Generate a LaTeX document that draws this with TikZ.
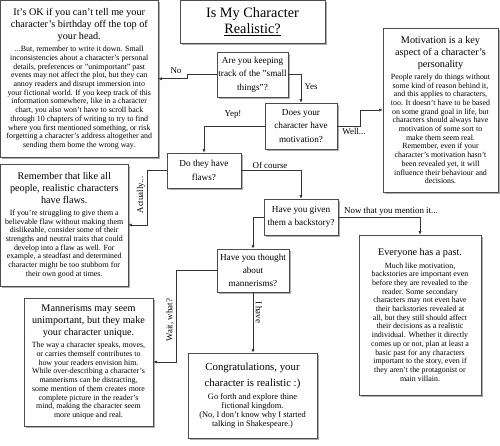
\documentclass[tikz,border=0pt]{standalone}
\usepackage{fontspec}
\setmainfont{Liberation Serif}
\usetikzlibrary{shadows,arrows.meta}
\newcommand\myhdf{\fontsize{10.2}{12}\selectfont}
\newcommand\mybdf{\fontsize{7.9}{8.7}\selectfont}
\newcommand\myqf{\fontsize{9.2}{13.3}\selectfont}
\newcommand\myinfo[3]{\begin{minipage}{#1}\centering\myhdf #2\par\vspace{3.5pt}\mybdf #3\par\end{minipage}}
\tikzset{
  box/.style={draw=black!70, fill=white, line width=0.6pt, inner sep=0pt, align=center,
    drop shadow={shadow xshift=1.6pt, shadow yshift=-1.6pt, fill=black!45, opacity=0.7}},
  qbox/.style={box, font=\myqf},
  lbl/.style={font=\fontsize{8.9}{10}\selectfont, inner sep=1pt},
  arr/.style={draw=black!80, line width=0.6pt, -{Latex[length=3.5pt,width=3pt]}}
}
\begin{document}
\begin{tikzpicture}[x=1pt,y=-1pt]
\useasboundingbox (0,0) rectangle (500,445);

\node[box, minimum width=145pt, minimum height=42.5pt, font=\fontsize{14.3}{15.5}\selectfont] (title) at (252.5,21.75) {Is My Character\\\underline{Realistic?}};

\node[box, minimum width=157.5pt, minimum height=156.5pt] (b1) at (79.25,78.75) {\myinfo{152pt}{It's OK if you can't tell me your\\character's birthday off the top of\\your head.}{...But, remember to write it down. Small\\inconsistencies about a character's personal\\details, preferences or "unimportant" past\\events may not affect the plot, but they can\\annoy readers and disrupt immersion into\\your fictional world. If you keep track of this\\information somewhere, like in a character\\chart, you also won't have to scroll back\\through 10 chapters of writing to try to find\\where you first mentioned something, or risk\\forgetting a character's address altogether and\\sending them home the wrong way.}};

\node[qbox, minimum width=71pt, minimum height=45pt] (q1) at (252.5,74.5) {Are you keeping\\track of the "small\\things"?};
\node[qbox, minimum width=72pt, minimum height=46pt] (q2) at (301,126) {Does your\\character have\\motivation?};

\node[box, minimum width=115pt, minimum height=164pt] (mot) at (440.5,110) {\myinfo{112pt}{Motivation is a key\\aspect of a character's\\personality}{People rarely do things without\\some kind of reason behind it,\\and this applies to characters,\\too. It doesn't have to be based\\on some grand goal in life, but\\characters should always have\\motivation of some sort to\\make them seem real.\\Remember, even if your\\character's motivation hasn't\\been revealed yet, it will\\influence their behaviour and\\decisions.}};

\node[qbox, minimum width=74pt, minimum height=35pt] (q3) at (204,170.5) {Do they have\\flaws?};

\node[box, minimum width=127.5pt, minimum height=122pt] (flaws) at (64.25,225) {\myinfo{124pt}{Remember that like all\\people, realistic characters\\have flaws.}{If you're struggling to give them a\\believable flaw without making them\\dislikeable, consider some of their\\strengths and neutral traits that could\\develop into a flaw as well. For\\example, a steadfast and determined\\character might be too stubborn for\\their own good at times.}};

\node[qbox, minimum width=74pt, minimum height=36pt] (q4) at (301,217) {Have you given\\them a backstory?};

\node[box, minimum width=122pt, minimum height=160pt] (past) at (420,315) {\myinfo{118pt}{Everyone has a past.}{Much like motivation,\\backstories are important even\\before they are revealed to the\\reader. Some secondary\\characters may not even have\\their backstories revealed at\\all, but they still should affect\\their decisions as a realistic\\individual. Whether it directly\\comes up or not, plan at least a\\basic past for any characters\\important to the story, even if\\they aren't the protagonist or\\main villain.}};

\node[qbox, minimum width=72pt, minimum height=43pt] (q5) at (253,270.5) {Have you thought\\about\\mannerisms?};

\node[box, minimum width=129pt, minimum height=128pt] (mann) at (88.5,362) {\myinfo{125pt}{Mannerisms may seem\\unimportant, but they make\\your character unique.}{The way a character speaks, moves,\\or carries themself contributes to\\how your readers envision him.\\While over-describing a character's\\mannerisms can be distracting,\\some mention of them creates more\\complete picture in the reader's\\mind, making the character seem\\more unique and real.}};

\node[box, minimum width=129pt, minimum height=85pt] (cong) at (252.5,395.5) {\begin{minipage}{125pt}\centering\fontsize{10.8}{16.7}\selectfont Congratulations, your\\character is realistic :)\par\vspace{3pt}\fontsize{8.4}{9.1}\selectfont Go forth and explore thine\\fictional kingdom.\\(No, I don't know why I started\\talking in Shakespeare.)\par\end{minipage}};

% connectors
\draw[arr] (q1.west) -- ++(-29,0) |- (b1.east);
\draw[arr] (q1.east) -| (q2.north);
\draw[arr] (q2.east) -- ++(23,0) |- (mot.west);
\draw[arr] (q2.west) -| (q3.north);
\draw[arr] (q3.west) -- ++(-19,0) |- (flaws.east);
\draw[arr] (q3.east) -| (q4.north);
\draw[arr] (q4.east) -| (past.north);
\draw[arr] (q4.west) -| (q5.north);
\draw[arr] (q5.west) -- ++(-40,0) |- (mann.east);
\draw[arr] (q5.south) -- (q5.south |- cong.north);

% labels
\node[lbl] (lno) at (176,71) {No};
\node[lbl] (lyes) at (311,87) {Yes};
\node[lbl] (lwell) at (354,131) {Well...};
\node[lbl] (lyep) at (233,115) {Yep!};
\node[lbl, rotate=90] (lact) at (141,195) {Actually...};
\node[lbl] (lcourse) at (270,165) {Of course};
\node[lbl] (lnow) at (391,211) {Now that you mention it...};
\node[lbl, rotate=90] (lwait) at (170,320) {Wait, what?};
\node[lbl, rotate=-90] (lhave) at (259,312) {I have};
\end{tikzpicture}
\end{document}
